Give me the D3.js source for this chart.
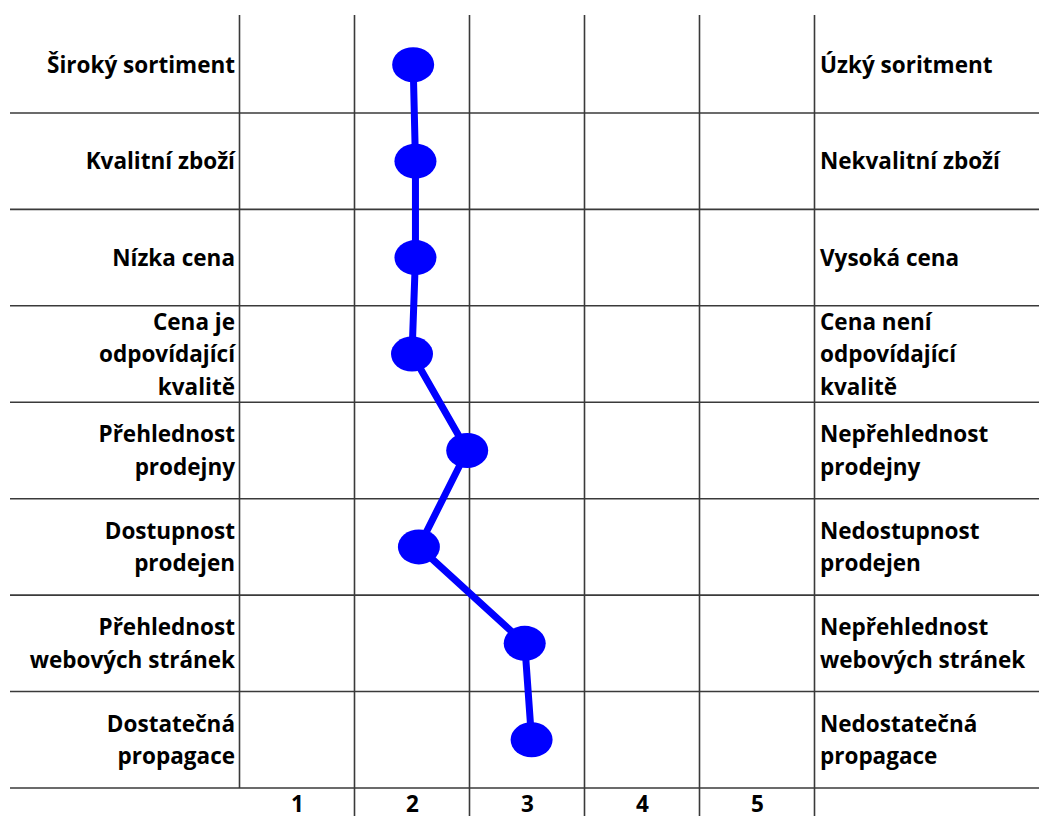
<!DOCTYPE html>
<html>
<head>
<meta charset="utf-8">
<script src="https://cdn.jsdelivr.net/npm/d3@7"></script>
<style>
  html, body { margin: 0; padding: 0; background: #fff; }
  svg { display: block; }
  text { font-family: "Open Sans", Lato, sans-serif; font-weight: 700; fill: #000; }
</style>
</head>
<body>
<svg id="chart" width="1039" height="816"></svg>
<script>
// Semantic differential profile: left (positive) pole, right (negative) pole, mean score 1–5
const leftLabels = [
  ["Široký sortiment"],
  ["Kvalitní zboží"],
  ["Nízka cena"],
  ["Cena je", "odpovídající", "kvalitě"],
  ["Přehlednost", "prodejny"],
  ["Dostupnost", "prodejen"],
  ["Přehlednost", "webových stránek"],
  ["Dostatečná", "propagace"]
];
const rightLabels = [
  ["Úzký soritment"],
  ["Nekvalitní zboží"],
  ["Vysoká cena"],
  ["Cena není", "odpovídající", "kvalitě"],
  ["Nepřehlednost", "prodejny"],
  ["Nedostupnost", "prodejen"],
  ["Nepřehlednost", "webových stránek"],
  ["Nedostatečná", "propagace"]
];
const scores = [2.01, 2.03, 2.03, 2.00, 2.48, 2.06, 2.98, 3.04];
const scaleTicks = [1, 2, 3, 4, 5];

const rows = d3.range(scores.length);
const svg = d3.select("#chart");
const W = 1039, H = 816;
const FONT = "22.5px";

const y = d3.scaleBand().domain(rows).range([16.5, 788]).paddingInner(0).paddingOuter(0);
const x = d3.scaleLinear().domain([0.5, 5.5]).range([239.5, 814.5]);

const grid = svg.append("g").attr("stroke", "#3a3a3a").attr("stroke-width", 1.6);

// horizontal separators below each row
grid.selectAll("line.h").data(rows).join("line")
  .attr("class", "h")
  .attr("x1", 10).attr("x2", W)
  .attr("y1", d => y(d) + y.bandwidth())
  .attr("y2", d => y(d) + y.bandwidth());

// vertical column boundaries
const bounds = d3.range(0.5, 6, 1);
grid.selectAll("line.v").data(bounds).join("line")
  .attr("class", "v")
  .attr("x1", d => x(d)).attr("x2", d => x(d))
  .attr("y1", 15)
  .attr("y2", (d, i) => i === 0 ? y(rows.length - 1) + y.bandwidth() : H);

// scale numbers along the bottom
const axis = d3.axisBottom(x).tickValues(scaleTicks).tickSize(0).tickPadding(0).tickFormat(d3.format("d"));
const ax = svg.append("g").attr("transform", `translate(0, ${y(rows.length - 1) + y.bandwidth()})`).call(axis);
ax.select(".domain").remove();
ax.selectAll("text")
  .attr("dy", null)
  .attr("y", 24)
  .style("font-family", "'Open Sans', sans-serif")
  .style("font-weight", 700)
  .style("font-size", FONT)
  .attr("fill", "#000");

// pole labels
const lineGap = 32.5;
function drawLabels(data, anchor, xpos) {
  const g = svg.append("g");
  data.forEach((lines, i) => {
    const cy = y(i) + y.bandwidth() / 2;
    const t = g.append("text")
      .attr("text-anchor", anchor)
      .attr("x", xpos)
      .style("font-size", FONT);
    lines.forEach((ln, j) => {
      t.append("tspan")
        .attr("x", xpos)
        .attr("y", cy + (j - (lines.length - 1) / 2) * lineGap)
        .attr("dy", "0.36em")
        .text(ln);
    });
  });
}
drawLabels(leftLabels, "end", 235);
drawLabels(rightLabels, "start", 820);

// profile line and markers
const line = d3.line().x(d => x(d.v)).y(d => y(d.i) + y.bandwidth() / 2);
const pts = scores.map((v, i) => ({ v, i }));
svg.append("path")
  .datum(pts)
  .attr("d", line)
  .attr("fill", "none")
  .attr("stroke", "#0000ff")
  .attr("stroke-width", 7);

svg.selectAll("ellipse.m").data(pts).join("ellipse")
  .attr("class", "m")
  .attr("cx", d => x(d.v))
  .attr("cy", d => y(d.i) + y.bandwidth() / 2)
  .attr("rx", 21)
  .attr("ry", 17.5)
  .attr("fill", "#0000ff");
</script>
</body>
</html>
